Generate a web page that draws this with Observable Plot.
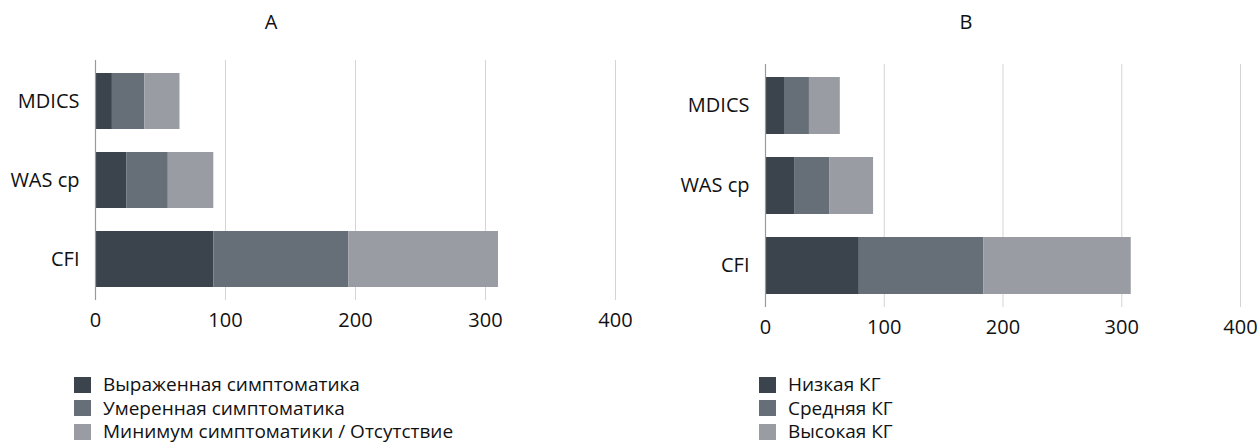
<!DOCTYPE html>
<html>
<head>
<meta charset="utf-8">
<script src="https://cdn.jsdelivr.net/npm/d3@7"></script>
<script src="https://cdn.jsdelivr.net/npm/@observablehq/plot@0.6"></script>
<style>
  html, body { margin: 0; padding: 0; background: #fff; }
  #root { position: relative; width: 1259px; height: 443px; overflow: hidden; font-family: "Open Sans", sans-serif; color: #111; }
  .panel { position: absolute; top: 0; }
  .title { position: absolute; font-size: 20px; transform: translateX(-50%); top: 8px; }
  .legend { position: absolute; font-size: 19px; }
  .legend .row { display: flex; align-items: center; white-space: nowrap; height: 23.5px; }
  .legend .row span.tx { line-height: 1; }
  .legend .sw { width: 17px; height: 16px; margin-right: 12px; flex: none; }
</style>
</head>
<body>
<div id="root"></div>
<script>
// ---- data ----
const categories = ["MDICS", "WAS cp", "CFI"];

const seriesA = ["Выраженная симптоматика", "Умеренная симптоматика", "Минимум симптоматики / Отсутствие"];
const severeA   = [13, 24, 91];
const moderateA = [25, 32, 104];
const minimalA  = [27, 35, 115];

const seriesB = ["Низкая КГ", "Средняя КГ", "Высокая КГ"];
const lowB  = [16, 25, 79];
const midB  = [21, 29, 105];
const highB = [26, 37, 124];

const xTicks = [0, 100, 200, 300, 400];
const panelTitles = ["A", "B"];
const colors = ["#3b444d", "#666e77", "#999da3"];

function table(series, valueLists) {
  const rows = [];
  categories.forEach((c, i) => {
    series.forEach((s, j) => rows.push({cat: c, series: s, value: valueLists[j][i]}));
  });
  return rows;
}

const dataA = table(seriesA, [severeA, moderateA, minimalA]);
const dataB = table(seriesB, [lowB, midB, highB]);

function panel(data, series, opts) {
  return Plot.plot({
    width: opts.width,
    height: 345,
    marginLeft: opts.marginLeft,
    marginRight: opts.marginRight,
    marginTop: opts.marginTop,
    marginBottom: opts.marginBottom,
    style: {fontFamily: "Open Sans, sans-serif", fontSize: "20px", color: "#111", background: "transparent", overflow: "visible"},
    x: {domain: [0, 400], ticks: xTicks, label: null},
    y: {domain: categories, paddingInner: 0.2875, paddingOuter: 0.144, label: null},
    color: {domain: series, range: colors},
    marks: [
      Plot.ruleX(xTicks.filter(d => d > 0), {stroke: "#d4d4d4", strokeWidth: 1}),
      Plot.barX(data, {y: "cat", x: "value", fill: "series"}),
      Plot.ruleX([0], {stroke: "#9a9a9a", strokeWidth: 1.2}),
      Plot.axisX({ticks: xTicks, tickSize: 0, tickPadding: 12, fontSize: 20, label: null}),
      Plot.axisY({tickSize: 0, tickPadding: 16, fontSize: 20, label: null})
    ]
  });
}

const root = document.getElementById("root");

function addPanel(left, svg) {
  const d = document.createElement("div");
  d.className = "panel";
  d.style.left = left + "px";
  d.appendChild(svg);
  root.appendChild(d);
}

addPanel(0, panel(dataA, seriesA, {width: 640, marginLeft: 95, marginRight: 25, marginTop: 60, marginBottom: 45}));
addPanel(640, panel(dataB, seriesB, {width: 619, marginLeft: 125, marginRight: 19, marginTop: 64, marginBottom: 38}));

// titles
[[271, panelTitles[0]], [966, panelTitles[1]]].forEach(([x, t]) => {
  const d = document.createElement("div");
  d.className = "title";
  d.style.left = x + "px";
  d.textContent = t;
  root.appendChild(d);
});

// legends
function legend(left, series) {
  const d = document.createElement("div");
  d.className = "legend";
  d.style.left = left + "px";
  d.style.top = "373px";
  series.forEach((s, i) => {
    const r = document.createElement("div");
    r.className = "row";
    const sw = document.createElement("span");
    sw.className = "sw";
    sw.style.background = colors[i];
    const tx = document.createElement("span");
    tx.className = "tx";
    tx.textContent = s;
    r.appendChild(sw);
    r.appendChild(tx);
    d.appendChild(r);
  });
  root.appendChild(d);
}
legend(74, seriesA);
legend(759, seriesB);
</script>
</body>
</html>
